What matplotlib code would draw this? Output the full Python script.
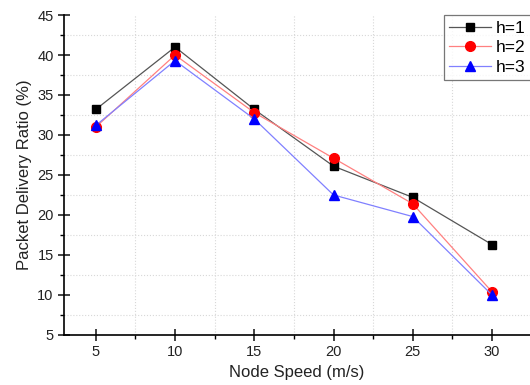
import matplotlib
matplotlib.use('Agg')
import matplotlib.pyplot as plt
from matplotlib.ticker import MultipleLocator

speed = [5, 10, 15, 20, 25, 30]
h1 = [33.2, 41.0, 33.2, 26.1, 22.2, 16.3]
h2 = [31.0, 40.0, 32.8, 27.1, 21.4, 10.4]
h3 = [31.2, 39.3, 32.0, 22.5, 19.8, 10.0]
labels = ['h=1', 'h=2', 'h=3']

plt.rcParams['font.family'] = ['Liberation Sans', 'DejaVu Sans']

fig = plt.figure(figsize=(5.3, 3.85), dpi=100)
ax = fig.add_axes([0.121, 0.13, 0.879, 0.831])

ax.plot(speed, h1, color='#555555', lw=0.9, marker='s', ms=6,
        mfc='black', mec='black', label=labels[0])
ax.plot(speed, h2, color='#ff8080', lw=0.9, marker='o', ms=7,
        mfc='red', mec='red', label=labels[1])
ax.plot(speed, h3, color='#8080ff', lw=0.9, marker='^', ms=7,
        mfc='blue', mec='blue', label=labels[2])

ax.set_xlim(3, 32.4)
ax.set_ylim(5, 45)
ax.xaxis.set_major_locator(MultipleLocator(5))
ax.xaxis.set_minor_locator(MultipleLocator(2.5))
ax.yaxis.set_major_locator(MultipleLocator(5))
ax.yaxis.set_minor_locator(MultipleLocator(2.5))

# grid only on the minor positions, like the original
ax.grid(True, which='minor', color='#d8d8d8', ls=':', lw=0.8)
for s in ['top', 'right']:
    ax.spines[s].set_visible(False)
ax.spines['left'].set_linewidth(1.2)
ax.spines['bottom'].set_linewidth(1.2)
ax.tick_params(which='major', direction='inout', length=8, width=1.2, labelsize=10.5, colors='#222222')
ax.tick_params(which='minor', direction='out', length=3, width=1.0)

ax.set_xlabel('Node Speed (m/s)', fontsize=12, color='#222222')
ax.set_ylabel('Packet Delivery Ratio (%)', fontsize=12, color='#222222')

leg = ax.legend(loc='upper left', bbox_to_anchor=(0.838, 0.96), bbox_transform=fig.transFigure,
                fontsize=12.5, frameon=True, fancybox=False, edgecolor='#555555',
                handlelength=2.4, borderpad=0.3, labelspacing=0.25, handletextpad=0.3,
                borderaxespad=0)
leg.get_frame().set_linewidth(0.9)

fig.savefig('out.png', dpi=100)
